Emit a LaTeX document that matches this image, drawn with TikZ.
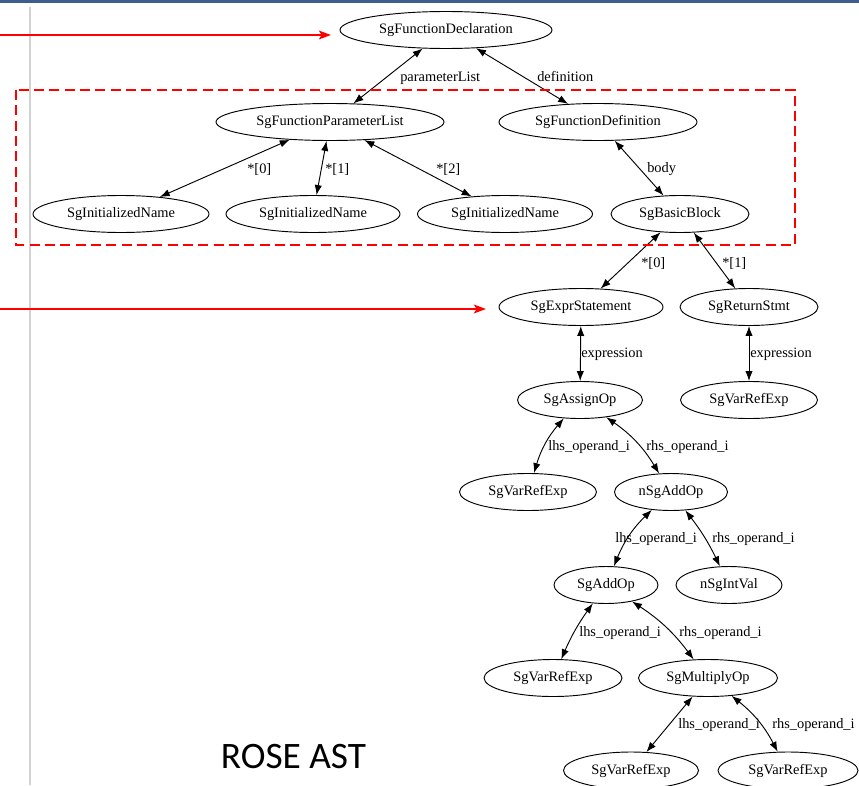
\documentclass[tikz,border=0pt]{standalone}
\usepackage{fontspec}
\setmainfont{Liberation Serif}
\newfontfamily\calibrifont{Carlito}
\usetikzlibrary{shapes.geometric,arrows.meta}
\definecolor{barblue}{RGB}{62,92,140}
\definecolor{rulegray}{RGB}{210,210,210}
\tikzset{
  astnode/.style={draw=black, line width=0.7pt, ellipse, inner sep=0pt,
    minimum height=27.75pt, font=\fontsize{10.8pt}{12pt}\selectfont},
  ew/.style={minimum width=#1*0.75pt},
  astedge/.style={line width=0.7pt, {Latex[length=7.5pt,width=5.5pt]}-{Latex[length=7.5pt,width=5.5pt]}},
  elabel/.style={anchor=base west, inner sep=0pt, font=\fontsize{10.8pt}{12pt}\selectfont},
  redarrow/.style={draw=red, line width=1.6pt, -{Stealth[length=9pt,width=6.5pt,inset=2pt]}},
  redbox/.style={draw=red, line width=1.5pt, dash pattern=on 7.5pt off 4pt}
}
\begin{document}
\begin{tikzpicture}[x=0.75pt,y=-0.75pt]
\clip (0,0) rectangle (859,785);
\fill[white] (0,0) rectangle (859,785);
% slide decorations
\fill[barblue] (0,0) rectangle (859,2.5);
\draw[rulegray, line width=0.8pt] (30,7) -- (30,785);
% nodes
\node[astnode, ew=212] (decl) at (446,30) {SgFunctionDeclaration};
\node[astnode, ew=228] (plist) at (330,122) {SgFunctionParameterList};
\node[astnode, ew=198] (fdef) at (598,122) {SgFunctionDefinition};
\node[astnode, ew=176] (in1) at (121,214) {SgInitializedName};
\node[astnode, ew=174] (in2) at (313,214) {SgInitializedName};
\node[astnode, ew=175] (in3) at (505,214) {SgInitializedName};
\node[astnode, ew=138] (bb) at (680,214) {SgBasicBlock};
\node[astnode, ew=164] (expr) at (581,307) {SgExprStatement};
\node[astnode, ew=138] (ret) at (749,307) {SgReturnStmt};
\node[astnode, ew=125] (asg) at (580,400) {SgAssignOp};
\node[astnode, ew=137] (vr1) at (749,400) {SgVarRefExp};
\node[astnode, ew=137] (vr2) at (528,492) {SgVarRefExp};
\node[astnode, ew=113] (nadd) at (671,492) {nSgAddOp};
\node[astnode, ew=104] (add) at (606,585) {SgAddOp};
\node[astnode, ew=106] (ival) at (729,585) {nSgIntVal};
\node[astnode, ew=138] (vr3) at (553,678) {SgVarRefExp};
\node[astnode, ew=139] (mul) at (708,678) {SgMultiplyOp};
\node[astnode, ew=135] (vr4) at (631,770.5) {SgVarRefExp};
\node[astnode, ew=140] (vr5) at (788,770.5) {SgVarRefExp};
% edges
\draw[astedge] (decl) -- (plist);
\draw[astedge] (decl) -- (fdef);
\draw[astedge] (plist) -- (in1);
\draw[astedge] (plist) -- (in2);
\draw[astedge] (plist) -- (in3);
\draw[astedge] (fdef) -- (bb);
\draw[astedge] (bb) -- (expr);
\draw[astedge] (bb) -- (ret);
\draw[astedge] (expr) -- (asg);
\draw[astedge] (ret) -- (vr1);
\draw[astedge] (asg) to[bend right=12] (vr2);
\draw[astedge] (asg) to[bend left=12] (nadd);
\draw[astedge] (nadd) to[bend right=12] (add);
\draw[astedge] (nadd) to[bend left=6] (ival);
\draw[astedge] (add) to[bend right=6] (vr3);
\draw[astedge] (add) to[bend left=10] (mul);
\draw[astedge] (mul) -- (vr4);
\draw[astedge] (mul) to[bend left=12] (vr5);
% edge labels
\node[elabel] (l1) at (400,81) {parameterList};
\node[elabel] (l2) at (537,81) {definition};
\node[elabel] (l3) at (247,173) {*[0]};
\node[elabel] (l4) at (325,173) {*[1]};
\node[elabel] (l5) at (436,173) {*[2]};
\node[elabel] (l6) at (647,172) {body};
\node[elabel] (l7) at (641,267) {*[0]};
\node[elabel] (l8) at (722,267) {*[1]};
\node[elabel] (l9) at (581,357) {expression};
\node[elabel] (l10) at (750,357) {expression};
\node[elabel] (l11) at (548,450) {lhs\_operand\_i};
\node[elabel] (l12) at (646,450) {rhs\_operand\_i};
\node[elabel] (l13) at (615,542) {lhs\_operand\_i};
\node[elabel] (l14) at (712,542) {rhs\_operand\_i};
\node[elabel] (l15) at (579,636) {lhs\_operand\_i};
\node[elabel] (l16) at (679,636) {rhs\_operand\_i};
\node[elabel] (l17) at (678,728) {lhs\_operand\_i};
\node[elabel] (l18) at (772,728) {rhs\_operand\_i};
% annotations
\draw[redbox] (16,90) rectangle (795,245);
\coordinate (a1s) at (0,35);
\coordinate (a1e) at (331,35);
\coordinate (a2s) at (0,309);
\coordinate (a2e) at (486,309);
\draw[redarrow] (a1s) -- (a1e);
\draw[redarrow] (a2s) -- (a2e);
\node[anchor=center, inner sep=0pt, font=\calibrifont\fontsize{28pt}{32pt}\selectfont] (title) at (293.5,757) {ROSE AST};
\end{tikzpicture}
\end{document}
